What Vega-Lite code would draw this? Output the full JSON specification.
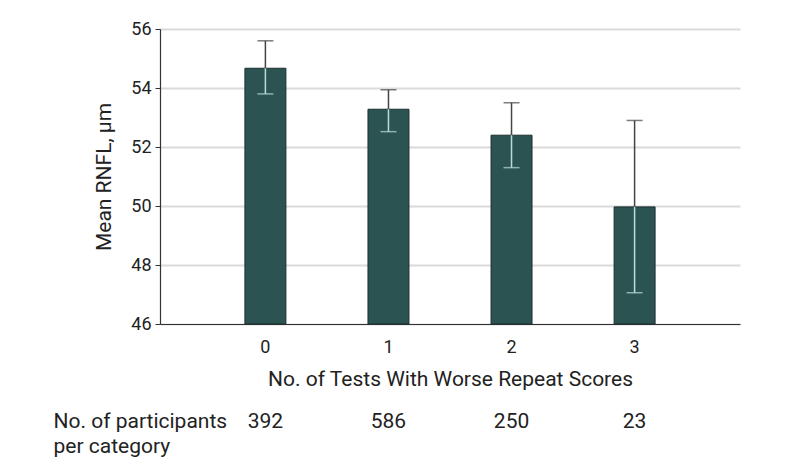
{
  "$schema": "https://vega.github.io/schema/vega-lite/v6.json",
  "padding": {"left": 53, "top": 20, "right": 5, "bottom": 5},
  "background": "white",
  "config": {"view": {"stroke": null}, "font": "Roboto", "concat": {"spacing": 5}},
  "datasets": {
    "bars": [
      {"tests": "0", "mean": 54.67, "lower": 53.8, "upper": 55.6, "n": 392},
      {"tests": "1", "mean": 53.28, "lower": 52.52, "upper": 53.94, "n": 586},
      {"tests": "2", "mean": 52.4, "lower": 51.3, "upper": 53.5, "n": 250},
      {"tests": "3", "mean": 49.97, "lower": 47.06, "upper": 52.9, "n": 23}
    ]
  },
  "vconcat": [
    {
      "width": 580,
      "height": 295,
      "data": {"name": "bars"},
      "encoding": {
        "x": {
          "field": "tests",
          "type": "ordinal",
          "scale": {"type": "band", "paddingInner": 0.667, "paddingOuter": 0.69},
          "axis": {
            "title": "No. of Tests With Worse Repeat Scores",
            "labelAngle": 0,
            "ticks": false,
            "grid": false,
            "labelPadding": 14,
            "labelFontSize": 18,
            "labelColor": "#222",
            "titleFontSize": 21,
            "titleFontWeight": "normal",
            "titleColor": "#222",
            "titlePadding": 12,
            "domainColor": "#333",
            "domainWidth": 1.2
          }
        }
      },
      "layer": [
        {
          "mark": {"type": "bar", "fill": "#2b5351", "stroke": "#1c2f2e", "strokeWidth": 1},
          "encoding": {
            "y": {
              "field": "mean",
              "type": "quantitative",
              "scale": {"domain": [46, 56], "nice": false, "zero": false},
              "axis": {
                "title": "Mean RNFL, μm",
                "values": [46, 48, 50, 52, 54, 56],
                "grid": true,
                "gridColor": "#dadada",
                "gridWidth": 2,
                "tickSize": 5,
                "tickColor": "#333",
                "domainColor": "#333",
                "domainWidth": 1.2,
                "labelFontSize": 18,
                "labelColor": "#222",
                "labelPadding": 4,
                "titleFontSize": 21,
                "titleFontWeight": "normal",
                "titleColor": "#222",
                "titlePadding": 16
              }
            },
            "y2": {"datum": 46}
          }
        },
        {
          "mark": {"type": "rule", "color": "#444", "strokeWidth": 1.5},
          "encoding": {
            "y": {"field": "mean", "type": "quantitative"},
            "y2": {"field": "upper"}
          }
        },
        {
          "mark": {"type": "rule", "color": "#bcdcd8", "strokeWidth": 1.5},
          "encoding": {
            "y": {"field": "lower", "type": "quantitative"},
            "y2": {"field": "mean"}
          }
        },
        {
          "mark": {"type": "tick", "color": "#444", "size": 16, "thickness": 1.5, "orient": "horizontal"},
          "encoding": {"y": {"field": "upper", "type": "quantitative"}}
        },
        {
          "mark": {"type": "tick", "color": "#bcdcd8", "size": 16, "thickness": 1.5, "orient": "horizontal"},
          "encoding": {"y": {"field": "lower", "type": "quantitative"}}
        }
      ]
    },
    {
      "width": 580,
      "height": 33,
      "data": {"name": "bars"},
      "mark": {"type": "text", "baseline": "top", "fontSize": 21, "color": "#222"},
      "encoding": {
        "x": {
          "field": "tests",
          "type": "ordinal",
          "scale": {"type": "band", "paddingInner": 0.667, "paddingOuter": 0.69},
          "axis": null
        },
        "y": {
          "datum": "p",
          "type": "nominal",
          "axis": {
            "title": ["No. of participants", "per category"],
            "titleAngle": 0,
            "titleAlign": "left",
            "titleBaseline": "top",
            "titleX": -107,
            "titleY": 16.5,
            "titleFontSize": 21,
            "titleFontWeight": "normal",
            "titleColor": "#222",
            "titleLineHeight": 25,
            "labels": false,
            "ticks": false,
            "domain": false,
            "grid": false
          }
        },
        "text": {"field": "n", "type": "quantitative"}
      }
    }
  ]
}
